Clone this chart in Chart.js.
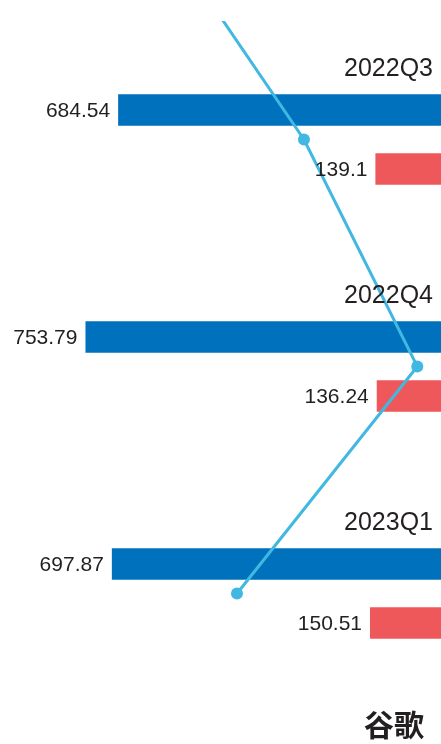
<!DOCTYPE html>
<html>
<head>
<meta charset="utf-8">
<script src="https://cdn.jsdelivr.net/npm/chart.js@4/dist/chart.umd.min.js"></script>
<style>
  html, body { margin: 0; padding: 0; background: #ffffff; }
  #wrap { width: 441px; height: 744px; position: relative; }
</style>
</head>
<body>
<div id="wrap"><canvas id="c"></canvas></div>
<script>
// ---- data ----
// first category is the previous quarter; only its line point exists and it lies above the visible area
const categories = ['2022Q2', '2022Q3', '2022Q4', '2023Q1'];
const firstVisible = '2022Q3';
const revenue = [null, 684.54, 753.79, 697.87];     // blue bars
const netIncome = [null, 139.1, 136.24, 150.51];    // red bars
const lineValues = [23.3, 20.3, 18.1, 21.6];        // line (ratio, %)
const companyName = '谷歌';

const BLUE = '#0071bc';
const RED = '#ef585b';
const CYAN = '#41b8e1';
const TEXT = '#231f20';

const labelPlugin = {
  id: 'barLabels',
  afterDatasetsDraw(chart) {
    const ctx = chart.ctx;
    ctx.save();
    ctx.fillStyle = TEXT;
    ctx.textAlign = 'right';
    ctx.textBaseline = 'middle';
    // value labels left of each bar
    ctx.font = '21px "Liberation Sans", Arial, sans-serif';
    [0, 1].forEach(di => {
      const meta = chart.getDatasetMeta(di);
      const data = chart.data.datasets[di].data;
      meta.data.forEach((bar, i) => {
        if (data[i] == null) return;
        const left = Math.min(bar.x, bar.base);
        ctx.fillText(String(data[i]), left - 8, bar.y + 1);
      });
    });
    // category labels above the blue bars
    ctx.font = '25px "Liberation Sans", Arial, sans-serif';
    const meta0 = chart.getDatasetMeta(0);
    const d0 = chart.data.datasets[0].data;
    meta0.data.forEach((bar, i) => {
      if (d0[i] == null) return;
      const top = bar.y - bar.height / 2;
      ctx.fillText(chart.data.labels[i], chart.chartArea.right - 8, top - 25);
    });
    // company name
    ctx.font = 'bold 30px "Noto Sans CJK SC", sans-serif';
    ctx.textAlign = 'center';
    ctx.fillText(companyName, chart.width - 47, chart.height - 19);
    ctx.restore();
  }
};

new Chart(document.getElementById('c'), {
  type: 'bar',
  data: {
    labels: categories,
    datasets: [
      {
        type: 'bar',
        label: '营收',
        data: revenue,
        backgroundColor: BLUE,
        xAxisID: 'x',
        yAxisID: 'y',
        categoryPercentage: 0.52,
        barPercentage: 0.53,
        order: 2
      },
      {
        type: 'bar',
        label: '净利润',
        data: netIncome,
        backgroundColor: RED,
        xAxisID: 'x',
        yAxisID: 'y',
        categoryPercentage: 0.52,
        barPercentage: 0.53,
        order: 2
      },
      {
        type: 'line',
        label: '净利率',
        data: lineValues,
        borderColor: CYAN,
        backgroundColor: CYAN,
        borderWidth: 3,
        pointRadius: 6,
        pointBorderWidth: 0,
        pointBackgroundColor: CYAN,
        tension: 0,
        xAxisID: 'x2',
        yAxisID: 'y',
        clip: { top: 5, right: 0, bottom: 0, left: 0 },
        order: 1
      }
    ]
  },
  options: {
    indexAxis: 'y',
    responsive: true,
    maintainAspectRatio: false,
    animation: false,
    layout: { autoPadding: false, padding: { top: 26, bottom: 37, left: 0, right: 0 } },
    plugins: {
      legend: { display: false },
      tooltip: { enabled: false },
      title: { display: false }
    },
    scales: {
      x: { type: 'linear', display: false, reverse: true, min: 0, max: 935 },
      y: { type: 'category', display: false, offset: true, min: firstVisible },
      x2: { type: 'linear', axis: 'x', display: false, reverse: true, min: 17.64, max: 26.2 }
    }
  },
  plugins: [labelPlugin]
});
</script>
</body>
</html>
